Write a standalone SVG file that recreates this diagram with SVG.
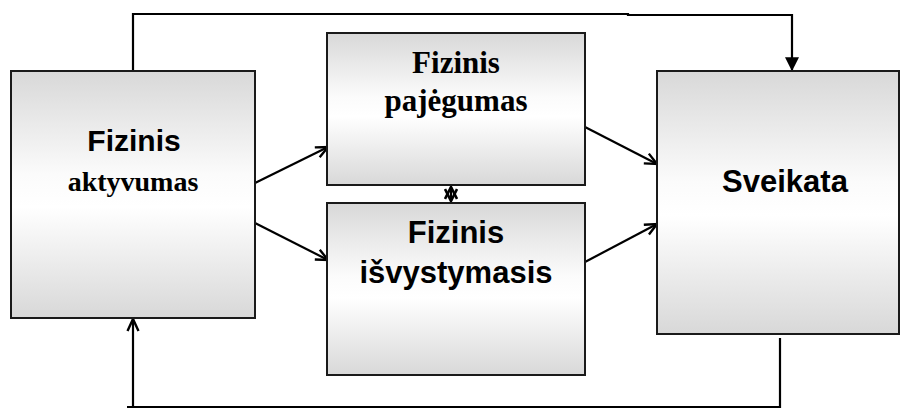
<svg xmlns="http://www.w3.org/2000/svg" width="900" height="410" viewBox="0 0 900 410">
<defs>
<linearGradient id="g" x1="0" y1="0" x2="0" y2="1">
<stop offset="0" stop-color="#d8d8d8"/>
<stop offset="0.42" stop-color="#fbfbfb"/>
<stop offset="0.55" stop-color="#ffffff"/>
<stop offset="1" stop-color="#d8d8d8"/>
</linearGradient>
<marker id="open" viewBox="0 0 14 14" refX="13" refY="7" markerWidth="14" markerHeight="14" markerUnits="userSpaceOnUse" orient="auto-start-reverse">
<path d="M1,1.5 L13,7 L1,12.5" fill="none" stroke="#000" stroke-width="2.4"/>
</marker>
<marker id="fill" viewBox="0 0 12 12" refX="11" refY="6" markerWidth="14" markerHeight="14" markerUnits="userSpaceOnUse" orient="auto">
<path d="M0,0 L12,6 L0,12 Z" fill="#000"/>
</marker>
<marker id="small" viewBox="0 0 14 14" refX="13" refY="7" markerWidth="14" markerHeight="14" markerUnits="userSpaceOnUse" orient="auto-start-reverse">
<path d="M1,1 L13,7 L1,13" fill="none" stroke="#000" stroke-width="2.6"/>
</marker>
</defs>
<style>
.box{fill:url(#g);stroke:#1a1a1a;stroke-width:2}
.sans{font-family:"Liberation Sans",Arial,sans-serif;font-weight:bold;fill:#000;text-anchor:middle}
.serif{font-family:"Liberation Serif","Times New Roman",serif;font-weight:bold;fill:#000;text-anchor:middle}
.c{fill:none;stroke:#000;stroke-width:2.2}
</style>
<rect width="900" height="410" fill="#fff"/>
<g id="connectors">
<polyline class="c" points="133,71 133,14 628,14 628,15 792,15 792,70" marker-end="url(#fill)"/>
<polyline class="c" points="780,338 780,407 127,407"/>
<line class="c" x1="133" y1="407" x2="133" y2="319" marker-end="url(#open)"/>
<line class="c" x1="255" y1="183" x2="328" y2="147" marker-end="url(#open)"/>
<line class="c" x1="255" y1="223" x2="328" y2="260" marker-end="url(#open)"/>
<line class="c" x1="585" y1="127" x2="657" y2="164" marker-end="url(#open)"/>
<line class="c" x1="585" y1="262" x2="657" y2="224" marker-end="url(#open)"/>
<line class="c" x1="451" y1="187" x2="451" y2="201" marker-start="url(#small)" marker-end="url(#small)"/>
</g>
<g id="fizinis-aktyvumas">
<rect class="box" x="11" y="71" width="244" height="247"/>
<text class="sans" x="134" y="151" font-size="30">Fizinis</text>
<text class="serif" x="133" y="191" font-size="28">aktyvumas</text>
</g>
<g id="fizinis-pajegumas">
<rect class="box" x="327" y="33" width="258" height="152"/>
<text class="serif" x="456" y="73" font-size="31">Fizinis</text>
<text class="serif" x="456" y="111" font-size="31">pajėgumas</text>
</g>
<g id="fizinis-isvystymasis">
<rect class="box" x="327" y="203" width="258" height="172"/>
<text class="sans" x="456" y="243" font-size="31">Fizinis</text>
<text class="sans" x="456" y="283" font-size="31">išvystymasis</text>
</g>
<g id="sveikata">
<rect class="box" x="657" y="71" width="242" height="263"/>
<text class="sans" x="785" y="192" font-size="31">Sveikata</text>
</g>
</svg>
